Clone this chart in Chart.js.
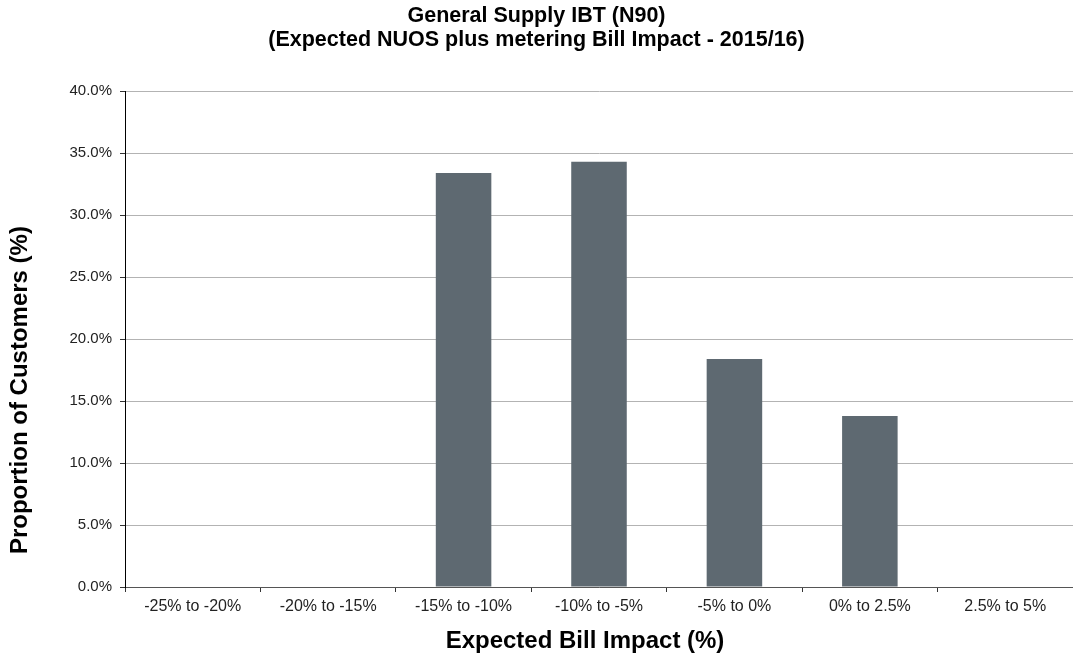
<!DOCTYPE html>
<html>
<head>
<meta charset="utf-8">
<title>General Supply IBT (N90)</title>
<script src="https://cdn.jsdelivr.net/npm/chart.js@4/dist/chart.umd.min.js"></script>
<style>
  html, body { margin: 0; padding: 0; background: #fff; }
  #wrap { width: 1073px; height: 656px; }
</style>
</head>
<body>
<div id="wrap"><canvas id="billChart"></canvas></div>
<script>
// bill impact bands and share of customers in each (%)
const bands = ["-25% to -20%", "-20% to -15%", "-15% to -10%", "-10% to -5%", "-5% to 0%", "0% to 2.5%", "2.5% to 5%"];
const customerShare = [0, 0, 33.4, 34.3, 18.4, 13.8, 0];
const titleLines = ["General Supply IBT (N90)", "(Expected NUOS plus metering Bill Impact - 2015/16)"];
const xTitle = "Expected Bill Impact (%)";
const yTitle = "Proportion of Customers (%)";

const font = "'Liberation Sans', Arial, sans-serif";

// axis titles drawn by hand so they can sit off-centre like the original sheet
const axisTitles = {
  id: "axisTitles",
  afterDraw(chart) {
    const { ctx, chartArea } = chart;
    ctx.save();
    ctx.fillStyle = "#000";
    ctx.font = "bold 24px " + font;
    ctx.textAlign = "center";
    ctx.textBaseline = "alphabetic";
    ctx.fillText(xTitle, (chartArea.left + chartArea.right) / 2 - 14, chartArea.bottom + 61);
    ctx.translate(27, (chartArea.top + chartArea.bottom) / 2 + 51);
    ctx.rotate(-Math.PI / 2);
    ctx.fillText(yTitle, 0, 0);
    ctx.restore();
  },
};

new Chart("billChart", {
  type: "bar",
  data: {
    labels: bands,
    datasets: [{
      data: customerShare,
      backgroundColor: "#5e6971",
      barPercentage: 0.41,
      categoryPercentage: 1.0,
    }],
  },
  plugins: [axisTitles],
  options: {
    responsive: true,
    maintainAspectRatio: false,
    animation: false,
    layout: { padding: { top: 4, right: 0, left: 0, bottom: 0 } },
    plugins: {
      legend: { display: false },
      tooltip: { enabled: false },
      title: {
        display: true,
        text: titleLines,
        color: "#000",
        font: { family: font, size: 21.5, weight: "bold", lineHeight: 1.12 },
        padding: { top: 0, bottom: 39 },
      },
    },
    scales: {
      x: {
        offset: true,
        grid: {
          offset: true,
          drawOnChartArea: false,
          drawTicks: true,
          tickLength: 5,
          tickColor: "#333",
        },
        border: { color: "#555", width: 1 },
        ticks: {
          color: "#222",
          font: { family: font, size: 16 },
          padding: 5,
          maxRotation: 0,
          autoSkip: false,
        },
        afterFit: (scale) => { scale.height = 69; },
      },
      y: {
        min: 0,
        max: 40,
        grid: {
          color: "#b3b3b3",
          lineWidth: 1,
          drawTicks: true,
          tickLength: 5,
          tickColor: "#333",
        },
        border: { color: "#000", width: 1 },
        ticks: {
          stepSize: 5,
          color: "#222",
          font: { family: font, size: 15 },
          padding: 8,
          callback: (v) => v.toFixed(1) + "%",
        },
        afterFit: (scale) => { scale.width = 125; },
      },
    },
  },
});
</script>
</body>
</html>
